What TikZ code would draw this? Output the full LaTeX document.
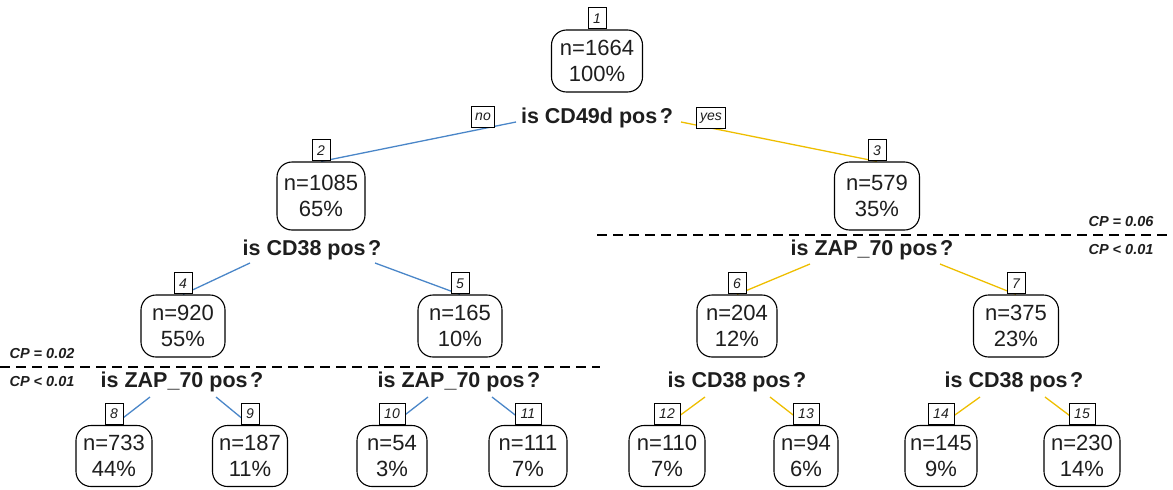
\documentclass[tikz,border=0pt]{standalone}
\usepackage{fontspec}
\setmainfont{Liberation Sans}
\usetikzlibrary{backgrounds}
\definecolor{eblue}{RGB}{74,134,200}
\definecolor{eyel}{RGB}{238,190,0}
\definecolor{ink}{RGB}{30,30,30}
\tikzset{
 nbox/.style={draw, line width=1.1pt, rounded corners=15pt, align=center, text=ink,
   font=\fontsize{22}{25.5}\selectfont, inner xsep=3pt, inner ysep=3pt,
   minimum width=#1, minimum height=62pt, fill=white},
 lbox/.style={draw, line width=1pt, fill=white, anchor=south, text=ink,
   font=\fontsize{14}{14}\selectfont\itshape, minimum width=18pt,
   minimum height=21pt, inner sep=1.5pt},
 yn/.style={draw, line width=1pt, fill=white, text=ink,
   font=\fontsize{14}{14}\selectfont\itshape, minimum height=21pt, inner xsep=4pt, inner ysep=1pt},
 split/.style={font=\fontsize{21.5}{21.5}\selectfont\bfseries, inner sep=0pt, text=ink},
 cp/.style={font=\fontsize{14.5}{14.5}\selectfont\bfseries\itshape, inner sep=0pt, text=ink},
 eb/.style={draw=eblue, line width=1.3pt},
 ey/.style={draw=eyel, line width=1.3pt},
 cut/.style={dash pattern=on 10pt off 6pt, line width=1.2pt}
}
\newcommand{\lab}[1]{\raisebox{-3pt}{#1}}
\newcommand{\qm}{\hspace{2.5pt}?}
\begin{document}
\begin{tikzpicture}[x=1pt,y=-1pt]
\useasboundingbox (0,0) rectangle (1173,490);
% level 0
\node[nbox=91pt] (n1) at (597,61) {n=1664\\100\%};
\node[lbox] (l1) at (n1.north) {\lab{1}};
\node[split] (s1) at (597,118) {is CD49d pos\qm};
\node[yn] (no) at (483,117) {\lab{no}};
\node[yn] (yes) at (711,118) {\lab{yes}};
% level 1
\node[nbox=88pt, minimum height=68pt] (n2) at (321,196) {n=1085\\65\%};
\node[lbox] (l2) at (n2.north) {\lab{2}};
\node[nbox=85pt, minimum height=68pt] (n3) at (877,196) {n=579\\35\%};
\node[lbox] (l3) at (n3.north) {\lab{3}};
\node[split] (s2) at (312,250) {is CD38 pos\qm};
\node[split] (s3) at (872,250) {is ZAP\_70 pos\qm};
% level 2
\node[nbox=84pt] (n4) at (183,326) {n=920\\55\%};
\node[lbox] (l4) at (n4.north) {\lab{4}};
\node[nbox=84pt] (n5) at (460,326) {n=165\\10\%};
\node[lbox] (l5) at (n5.north) {\lab{5}};
\node[nbox=80pt] (n6) at (737,326) {n=204\\12\%};
\node[lbox] (l6) at (n6.north) {\lab{6}};
\node[nbox=85pt] (n7) at (1016,326) {n=375\\23\%};
\node[lbox] (l7) at (n7.north) {\lab{7}};
\node[split] (s4) at (182,382) {is ZAP\_70 pos\qm};
\node[split] (s5) at (459,382) {is ZAP\_70 pos\qm};
\node[split] (s6) at (737,382) {is CD38 pos\qm};
\node[split] (s7) at (1014,382) {is CD38 pos\qm};
% leaves
\node[nbox=76pt, minimum height=61pt] (n8) at (114,456) {n=733\\44\%};
\node[lbox] (l8) at (n8.north) {\lab{8}};
\node[nbox=75pt, minimum height=61pt] (n9) at (250,456) {n=187\\11\%};
\node[lbox] (l9) at (n9.north) {\lab{9}};
\node[nbox=70pt, minimum height=61pt] (n10) at (392,456) {n=54\\3\%};
\node[lbox, minimum width=26pt] (l10) at (n10.north) {\lab{10}};
\node[nbox=78pt, minimum height=61pt] (n11) at (528,456) {n=111\\7\%};
\node[lbox, minimum width=26pt] (l11) at (n11.north) {\lab{11}};
\node[nbox=76pt, minimum height=61pt] (n12) at (667,456) {n=110\\7\%};
\node[lbox, minimum width=26pt] (l12) at (n12.north) {\lab{12}};
\node[nbox=64pt, minimum height=61pt] (n13) at (806,456) {n=94\\6\%};
\node[lbox, minimum width=26pt] (l13) at (n13.north) {\lab{13}};
\node[nbox=72pt, minimum height=61pt] (n14) at (941,456) {n=145\\9\%};
\node[lbox, minimum width=26pt] (l14) at (n14.north) {\lab{14}};
\node[nbox=76pt, minimum height=61pt] (n15) at (1082,456) {n=230\\14\%};
\node[lbox, minimum width=26pt] (l15) at (n15.north) {\lab{15}};
% CP labels
\node[cp] (cp1) at (1121,222) {CP = 0.06};
\node[cp] (cp2) at (1121,250) {CP < 0.01};
\node[cp] (cp3) at (42,354) {CP = 0.02};
\node[cp] (cp4) at (42,382) {CP < 0.01};
% branch start points
\coordinate (a2) at (516,122); \coordinate (a3) at (681,122);
\coordinate (a4) at (250,263); \coordinate (a5) at (375,263);
\coordinate (a6) at (810,264); \coordinate (a7) at (940,264);
\coordinate (a8) at (150,397); \coordinate (a9) at (216,397);
\coordinate (a10) at (428,397); \coordinate (a11) at (492,397);
\coordinate (a12) at (705,397); \coordinate (a13) at (770,397);
\coordinate (a14) at (980,397); \coordinate (a15) at (1045,397);
\coordinate (c1a) at (597,235); \coordinate (c1b) at (1173,235);
\coordinate (c2a) at (0,367); \coordinate (c2b) at (600,367);
\begin{pgfonlayer}{background}
\draw[eb] (a2) -- (n2.north);
\draw[ey] (a3) -- (n3.north);
\draw[eb] (a4) -- (n4.north);
\draw[eb] (a5) -- (n5.north);
\draw[ey] (a6) -- (n6.north);
\draw[ey] (a7) -- (n7.north);
\draw[eb] (a8) -- (n8.north);
\draw[eb] (a9) -- (n9.north);
\draw[eb] (a10) -- (n10.north);
\draw[eb] (a11) -- (n11.north);
\draw[ey] (a12) -- (n12.north);
\draw[ey] (a13) -- (n13.north);
\draw[ey] (a14) -- (n14.north);
\draw[ey] (a15) -- (n15.north);
\end{pgfonlayer}
\draw[cut] (c1a) -- (c1b);
\draw[cut] (c2a) -- (c2b);
\end{tikzpicture}
\end{document}
